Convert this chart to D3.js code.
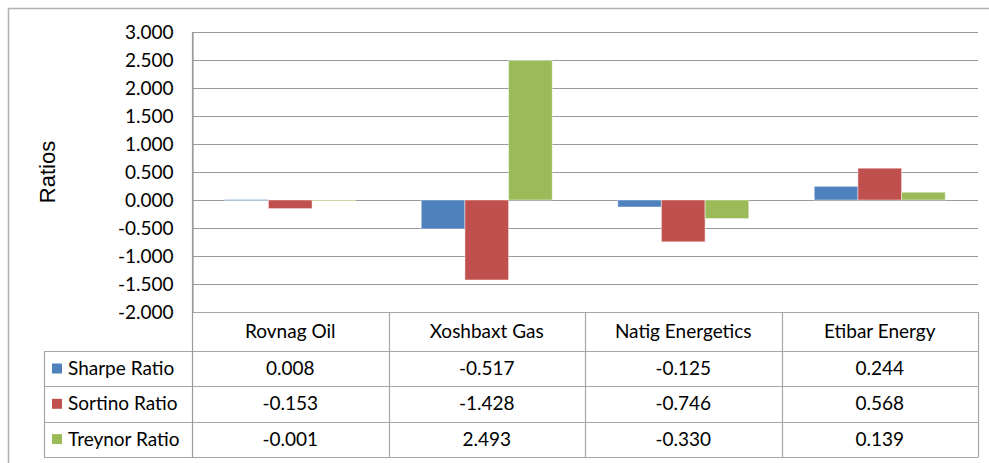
<!DOCTYPE html>
<html>
<head>
<meta charset="utf-8">
<script src="https://cdn.jsdelivr.net/npm/d3@7"></script>
<style>
  html, body { margin: 0; padding: 0; background: #fff; }
  svg { display: block; }
  text { font-family: Lato, "Open Sans", sans-serif; fill: #000; }
</style>
</head>
<body>
<svg id="chart" width="989" height="463"></svg>
<script>
// chart data
const categories = ["Rovnag Oil", "Xoshbaxt Gas", "Natig Energetics", "Etibar Energy"];
const seriesNames = ["Sharpe Ratio", "Sortino Ratio", "Treynor Ratio"];
const sharpe = [0.008, -0.517, -0.125, 0.244];
const sortino = [-0.153, -1.428, -0.746, 0.568];
const treynor = [-0.001, 2.493, -0.330, 0.139];
const seriesColors = ["#4F81BD", "#C0504D", "#9BBB59"];

const values = [sharpe, sortino, treynor];
const fmt = (v) => v.toFixed(3);

const svg = d3.select("#chart");

// plot / table geometry
const plotLeft = 192, plotRight = 978, plotTop = 32, plotBottom = 312;
const headerBottom = 351, rowH = 35.3, legendLeft = 44;
const gridColor = "#9a9a9a", tableColor = "#a6a6a6";

// outer chart frame (runs off the picture at right and bottom)
svg.append("rect")
  .attr("x", 8.5).attr("y", 8.5)
  .attr("width", 1100).attr("height", 600)
  .attr("fill", "none")
  .attr("stroke", "#b0b0b0")
  .attr("stroke-width", 1.5);

const y = d3.scaleLinear().domain([-2, 3]).range([plotBottom, plotTop]);
const x0 = d3.scaleBand().domain(categories).range([plotLeft, plotRight]).paddingInner(0).paddingOuter(0);
const x1 = d3.scaleBand().domain(seriesNames).range([0, x0.bandwidth()]).paddingInner(0).paddingOuter(0.75);

// gridlines
const ticks = y.ticks(10);
svg.append("g")
  .selectAll("line")
  .data(ticks)
  .join("line")
  .attr("x1", plotLeft).attr("x2", plotRight)
  .attr("y1", (d) => Math.round(y(d)) + 0.5)
  .attr("y2", (d) => Math.round(y(d)) + 0.5)
  .attr("stroke", gridColor)
  .attr("stroke-width", 1.2);

// y axis
const yAxis = svg.append("g")
  .attr("transform", `translate(${plotLeft + 0.5},0)`)
  .call(d3.axisLeft(y).tickValues(ticks).tickFormat(fmt).tickSize(0).tickPadding(19));
yAxis.select(".domain").attr("stroke", gridColor).attr("stroke-width", 1.2);
yAxis.selectAll("text")
  .style("font-family", "Lato, sans-serif")
  .style("font-size", "19px")
  .attr("fill", "#000");

// axis title
svg.append("text")
  .attr("transform", "translate(55,172) rotate(-90)")
  .attr("text-anchor", "middle")
  .style("font-family", "'Liberation Sans', Arial, sans-serif")
  .style("font-size", "22px")
  .text("Ratios");

// bars
const groups = svg.append("g")
  .selectAll("g")
  .data(categories)
  .join("g")
  .attr("transform", (d) => `translate(${x0(d)},0)`);

groups.selectAll("rect")
  .data((c, ci) => seriesNames.map((s, si) => ({ s, si, v: values[si][ci] })))
  .join("rect")
  .attr("x", (d) => x1(d.s))
  .attr("width", x1.bandwidth())
  .attr("y", (d) => y(Math.max(0, d.v)))
  .attr("height", (d) => Math.max(1, Math.abs(y(d.v) - y(0))))
  .attr("fill", (d) => seriesColors[d.si])
  .attr("stroke", "#ffffff")
  .attr("stroke-opacity", 0.45)
  .attr("stroke-width", 1);

// data table
const table = svg.append("g");
const rowTop = (i) => headerBottom + i * rowH;
const tableBottom = rowTop(seriesNames.length);
const colEdges = categories.map((c) => x0(c)).concat([plotRight]);

// horizontal lines
table.append("line")
  .attr("x1", plotLeft).attr("x2", plotRight)
  .attr("y1", plotBottom + 0.5).attr("y2", plotBottom + 0.5)
  .attr("stroke", tableColor).attr("stroke-width", 1.2);
table.selectAll("line.h")
  .data(d3.range(seriesNames.length + 1))
  .join("line")
  .attr("class", "h")
  .attr("x1", legendLeft).attr("x2", plotRight)
  .attr("y1", (i) => Math.round(rowTop(i)) + 0.5)
  .attr("y2", (i) => Math.round(rowTop(i)) + 0.5)
  .attr("stroke", tableColor).attr("stroke-width", 1.2);

// vertical lines
table.selectAll("line.v")
  .data(colEdges)
  .join("line")
  .attr("class", "v")
  .attr("x1", (d) => Math.round(d) + 0.5).attr("x2", (d) => Math.round(d) + 0.5)
  .attr("y1", (d, i) => (i === 0 ? plotTop : plotBottom))
  .attr("y2", Math.round(tableBottom) + 0.5)
  .attr("stroke", (d, i) => (i === 0 ? gridColor : tableColor))
  .attr("stroke-width", 1.2);
table.append("line")
  .attr("x1", legendLeft + 0.5).attr("x2", legendLeft + 0.5)
  .attr("y1", headerBottom).attr("y2", Math.round(tableBottom) + 0.5)
  .attr("stroke", tableColor).attr("stroke-width", 1.2);

// header labels
table.selectAll("text.cat")
  .data(categories)
  .join("text")
  .attr("class", "cat")
  .attr("x", (d) => x0(d) + x0.bandwidth() / 2)
  .attr("y", plotBottom + 26)
  .attr("text-anchor", "middle")
  .style("font-size", "19px")
  .text((d) => d);

// legend keys + values
const rows = table.selectAll("g.row")
  .data(seriesNames)
  .join("g")
  .attr("class", "row")
  .attr("transform", (d, i) => `translate(0,${rowTop(i)})`);

rows.append("rect")
  .attr("x", 52).attr("y", 12.5)
  .attr("width", 10).attr("height", 10)
  .attr("fill", (d, i) => seriesColors[i]);

rows.append("text")
  .attr("x", 68).attr("y", 24)
  .style("font-size", "19px")
  .text((d) => d);

rows.selectAll("text.val")
  .data((d, si) => categories.map((c, ci) => ({ c, v: values[si][ci] })))
  .join("text")
  .attr("class", "val")
  .attr("x", (d) => x0(d.c) + x0.bandwidth() / 2)
  .attr("y", 24)
  .attr("text-anchor", "middle")
  .style("font-size", "19px")
  .text((d) => fmt(d.v));
</script>
</body>
</html>
